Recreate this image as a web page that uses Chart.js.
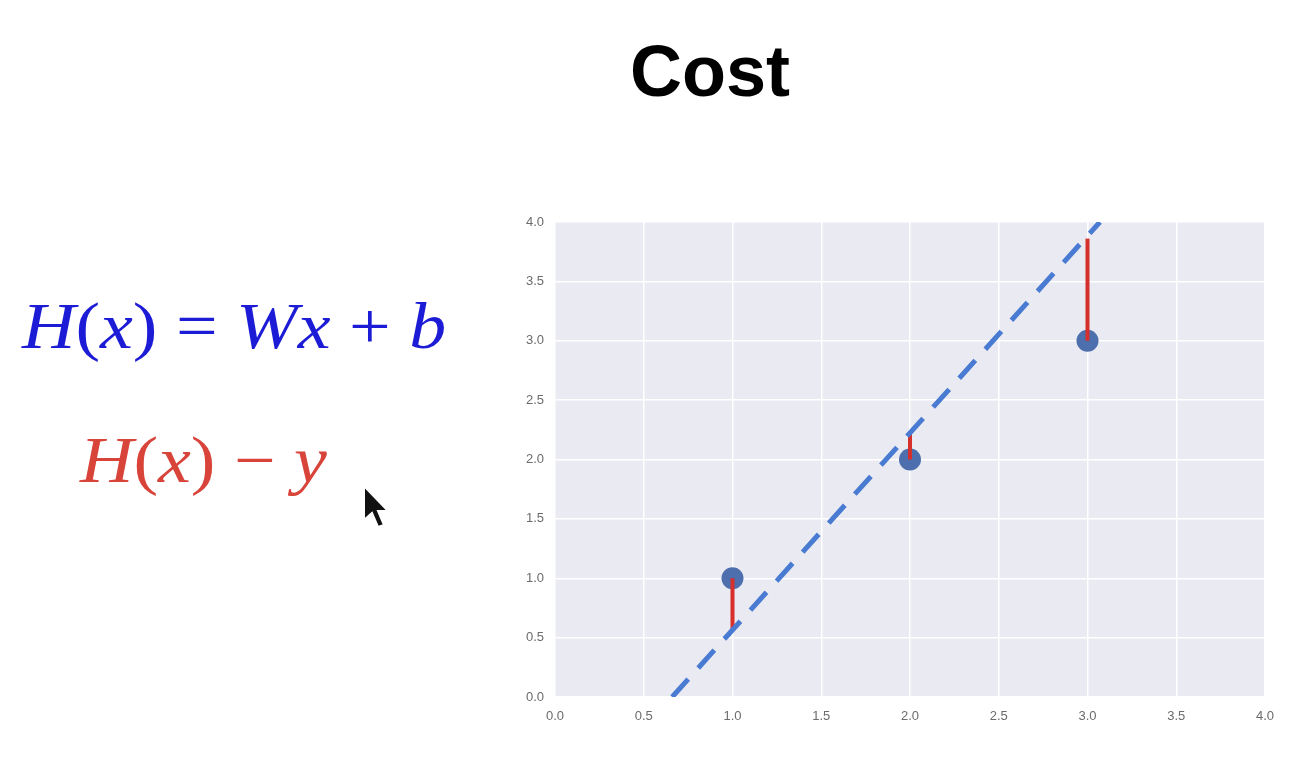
<!DOCTYPE html>
<html>
<head>
<meta charset="utf-8">
<script src="https://cdn.jsdelivr.net/npm/chart.js@4"></script>
<style>
  body { margin: 0; background: #fff; width: 1314px; height: 764px; overflow: hidden; position: relative; }
  #title { position: absolute; left: 0; width: 1420px; top: 30px; text-align: center;
           font: bold 72px "Liberation Sans", Arial, sans-serif; color: #000; }
  .eq { position: absolute; font-family: "Liberation Serif", "DejaVu Serif", serif; font-size: 66px; white-space: nowrap;
        transform: scaleX(1.12); transform-origin: left top; }
  .eq i { font-style: italic; }
  #eq1 { left: 22px; top: 288px; color: #1c1cd6; }
  #eq2 { left: 80px; top: 422px; color: #d8443a; }
  #cursor { position: absolute; left: 362px; top: 484px; }
  #wrap { position: absolute; left: 500px; top: 200px; width: 800px; height: 540px; }
</style>
</head>
<body>
<div id="title">Cost</div>
<div class="eq" id="eq1"><i>H</i>(<i>x</i>)&nbsp;=&nbsp;<i>W</i><i>x</i>&nbsp;+&nbsp;<i>b</i></div>
<div class="eq" id="eq2"><i>H</i>(<i>x</i>)&nbsp;&minus;&nbsp;<i>y</i></div>
<svg id="cursor" width="30" height="46" viewBox="0 0 30 46">
  <path d="M2 2 L2 36 L10 29 L16 43 L22 41 L16 27 L26 27 Z" fill="#111" stroke="#fff" stroke-width="2"/>
</svg>
<div id="wrap"><canvas id="myChart"></canvas></div>
<script>
var pointX = [1, 2, 3];
var pointY = [1, 2, 3];
var fitY = [0.56, 2.22, 3.86];          // H(x) at each x
var lineX = [0.66, 3.07];
var lineY = [0.0, 4.0];
var tickLabels = ['0.0', '0.5', '1.0', '1.5', '2.0', '2.5', '3.0', '3.5', '4.0'];

var plotBg = {
    id: 'plotBg',
    beforeDraw: function (chart) {
        var a = chart.chartArea, c = chart.ctx;
        c.save();
        c.fillStyle = '#eaeaf2';
        c.fillRect(a.left, a.top, a.right - a.left, a.bottom - a.top);
        c.restore();
    }
};

var residuals = pointX.map(function (x, i) {
    return {
        data: [{x: x, y: pointY[i]}, {x: x, y: fitY[i]}],
        borderColor: '#d62f2c',
        borderWidth: 4,
        pointRadius: 0,
        showLine: true,
        order: 2
    };
});

var ctx = document.getElementById('myChart').getContext('2d');
var myChart = new Chart(ctx, {
    type: 'scatter',
    data: {
        datasets: [{
            data: pointX.map(function (x, i) { return {x: x, y: pointY[i]}; }),
            backgroundColor: '#4d6fae',
            borderWidth: 0,
            pointRadius: 11,
            order: 3
        }].concat(residuals).concat([{
            data: lineX.map(function (x, i) { return {x: x, y: lineY[i]}; }),
            borderColor: '#4a7bd2',
            borderWidth: 5,
            borderDash: [24, 15],
            pointRadius: 0,
            showLine: true,
            order: 1
        }])
    },
    options: {
        responsive: true,
        maintainAspectRatio: false,
        animation: false,
        layout: { padding: { top: 22, right: 35, left: 0, bottom: 0 } },
        plugins: { legend: { display: false }, tooltip: { enabled: false } },
        scales: {
            x: {
                type: 'linear', min: 0, max: 4,
                afterFit: function (s) { s.height = 43; },
                border: { display: false },
                grid: { color: '#ffffff', lineWidth: 1.5, drawTicks: false },
                ticks: {
                    stepSize: 0.5, padding: 12, color: '#6b6b6b',
                    font: { family: 'Liberation Sans', size: 13 },
                    callback: function (v, i) { return tickLabels[i]; }
                }
            },
            y: {
                type: 'linear', min: 0, max: 4,
                afterFit: function (s) { s.width = 55; },
                border: { display: false },
                grid: { color: '#ffffff', lineWidth: 1.5, drawTicks: false },
                ticks: {
                    stepSize: 0.5, padding: 11, color: '#6b6b6b',
                    font: { family: 'Liberation Sans', size: 13 },
                    callback: function (v, i) { return tickLabels[i]; }
                }
            }
        }
    },
    plugins: [plotBg]
});
</script>
</body>
</html>
